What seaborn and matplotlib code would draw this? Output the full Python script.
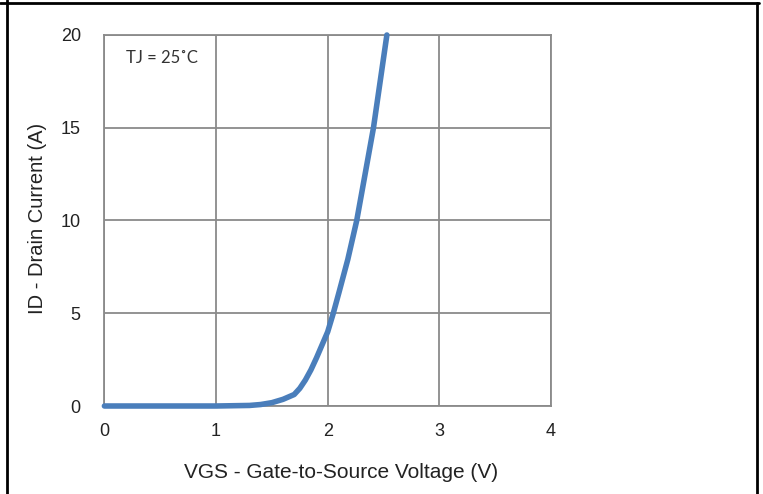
import matplotlib
matplotlib.use("Agg")
import matplotlib.pyplot as plt
import seaborn as sns
import pandas as pd
from matplotlib.lines import Line2D

# Transfer characteristic: drain current vs gate-source voltage
vgs = [0.0, 0.5, 1.0, 1.3, 1.4, 1.5, 1.6, 1.7, 1.75, 1.8, 1.85, 1.9, 1.95,
       2.0, 2.05, 2.1, 2.18, 2.26, 2.41, 2.53]
id_current = [0.0, 0.0, 0.0, 0.03, 0.08, 0.18, 0.36, 0.62, 0.95, 1.4, 1.95,
              2.6, 3.3, 4.0, 5.0, 6.1, 7.9, 10.0, 15.0, 20.0]

x_ticks = [0, 1, 2, 3, 4]
y_ticks = [0, 5, 10, 15, 20]

df = pd.DataFrame({"VGS": vgs, "ID": id_current})

sns.set_theme(style="white")
plt.rcParams["font.family"] = ["Liberation Sans", "DejaVu Sans"]

W, H = 763, 494
fig = plt.figure(figsize=(W / 100, H / 100), dpi=100)
ax = fig.add_axes([104.4 / W, (H - 406) / H, (551 - 104.4) / W, (406 - 35) / H])

grid_color = "#8a8a8a"
ax.set_xlim(0, 4)
ax.set_ylim(0, 20)
ax.set_xticks(x_ticks)
ax.set_yticks(y_ticks)
ax.grid(True, color=grid_color, linewidth=1.3)
for s in ax.spines.values():
    s.set_color(grid_color)
    s.set_linewidth(1.3)

sns.lineplot(data=df, x="VGS", y="ID", ax=ax, color="#4a7ebb", linewidth=4.0,
             sort=False, estimator=None, solid_capstyle="round",
             solid_joinstyle="round", clip_on=False, zorder=3)

ax.tick_params(axis="both", length=0, labelsize=13, labelcolor="#222222")
ax.tick_params(axis="x", pad=12)
ax.tick_params(axis="y", pad=17)
ax.set_xlabel("")
ax.set_ylabel("")

fig.text(340.8 / W, 1 - 472 / H, "VGS - Gate-to-Source Voltage (V)",
         ha="center", va="center", fontsize=15, color="#222222")
fig.text(38 / W, 1 - 218.5 / H, "ID - Drain Current (A)", rotation=90,
         ha="center", va="center", fontsize=14.5, color="#222222")

ax.text(161.7 / W, 1 - 58 / H, "TJ = 25˚C", transform=fig.transFigure,
        ha="center", va="center", fontsize=12, color="#333333",
        family=["Lato", "DejaVu Sans"])

# Frame around the figure
border = dict(color="black", linewidth=2.0, transform=fig.transFigure)
fig.add_artist(Line2D([0, 758.5 / W], [1 - 3 / H, 1 - 3 / H], **border))
fig.add_artist(Line2D([7 / W, 7 / W], [0, 1], **border))
fig.add_artist(Line2D([757 / W, 757 / W], [0, 1 - 3 / H], **border))

fig.savefig("out.png", dpi=100)
